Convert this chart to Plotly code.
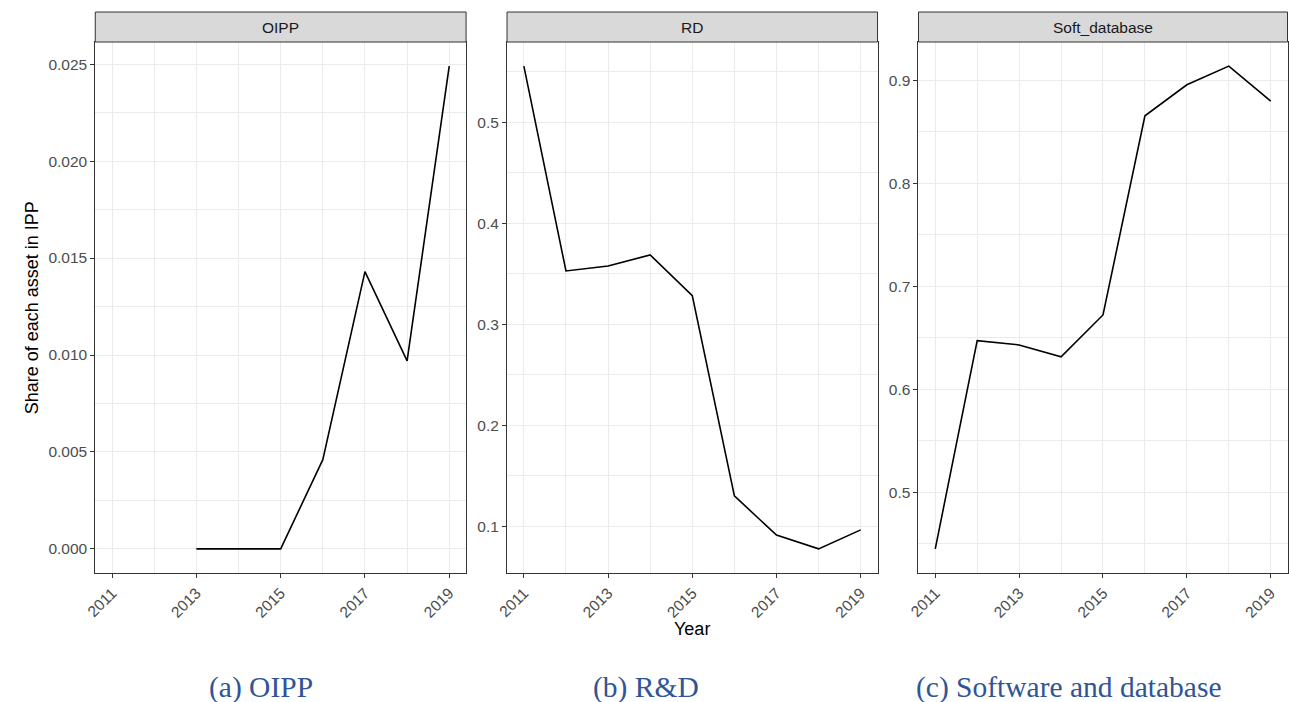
import plotly.graph_objects as go

years = [2011, 2012, 2013, 2014, 2015, 2016, 2017, 2018, 2019]
oipp = [None, None, 0.0, 0.0, 0.0, 0.0046, 0.0143, 0.0097, 0.0249]
rd = [0.5557, 0.3528, 0.3577, 0.3686, 0.3283, 0.130, 0.0911, 0.0775, 0.0963]
soft = [0.445, 0.6473, 0.6431, 0.6315, 0.6722, 0.8657, 0.8958, 0.9139, 0.8799]

strip_labels = ["OIPP", "RD", "Soft_database"]
captions = ["(a) OIPP", "(b) R&D", "(c) Software and database"]
x_ticks = [2011, 2013, 2015, 2017, 2019]
y_title = "Share of each asset in IPP"
x_title = "Year"

W, H = 1289, 702
panels_px = [(85, 459), (500.3, 874), (915.3, 1287.5)]
top_px, bot_px, strip_top_px = 42, 573, 12

def py(p):
    return (H - p) / H

def px(p):
    return p / W

series = [oipp, rd, soft]
ydticks = [0.005, 0.1, 0.1]
yfmts = [".3f", ".1f", ".1f"]

fig = go.Figure()
grid = "#EBEBEB"
axcol = "#333333"
tickfont = dict(family="Liberation Sans, Arial", size=15.5, color="#4D4D4D")

layout = dict(
    width=W, height=H, margin=dict(l=0, r=0, t=0, b=0),
    paper_bgcolor="white", plot_bgcolor="white", showlegend=False,
    shapes=[], annotations=[],
)

xr = [years[0] - 0.05 * (years[-1] - years[0]), years[-1] + 0.05 * (years[-1] - years[0])]

for i, vals in enumerate(series):
    n = "" if i == 0 else str(i + 1)
    fig.add_trace(go.Scatter(x=years, y=vals, mode="lines",
                             line=dict(color="black", width=1.6),
                             xaxis="x" + n, yaxis="y" + n, connectgaps=False,
                             hoverinfo="skip"))
    v = [a for a in vals if a is not None]
    lo, hi = min(v), max(v)
    pad = 0.05 * (hi - lo)
    x0, x1 = panels_px[i]
    layout["xaxis" + n] = dict(
        domain=[px(x0), px(x1)], anchor="y" + n, range=xr,
        tickvals=x_ticks, ticktext=[str(t) for t in x_ticks], tickangle=-45,
        ticks="outside", ticklen=4, tickcolor=axcol, tickwidth=1,
        showgrid=True, gridcolor=grid, gridwidth=1.2,
        minor=dict(dtick=1, tick0=2011, showgrid=True, gridcolor=grid, gridwidth=0.6, ticks=""),
        showline=True, linecolor=axcol, linewidth=1, mirror=True,
        zeroline=False, tickfont=tickfont,
    )
    layout["yaxis" + n] = dict(
        domain=[py(bot_px), py(top_px)], anchor="x" + n, range=[lo - pad, hi + pad],
        dtick=ydticks[i], tick0=0, tickformat=yfmts[i],
        ticks="outside", ticklen=4, tickcolor=axcol, tickwidth=1,
        showgrid=True, gridcolor=grid, gridwidth=1.2,
        minor=dict(dtick=ydticks[i] / 2, tick0=0, showgrid=True, gridcolor=grid, gridwidth=0.6, ticks=""),
        showline=True, linecolor=axcol, linewidth=1, mirror=True,
        zeroline=False, tickfont=tickfont,
    )
    layout["shapes"].append(dict(type="rect", xref="paper", yref="paper",
                                 x0=px(x0), x1=px(x1), y0=py(top_px), y1=py(strip_top_px),
                                 fillcolor="#D9D9D9", line=dict(color=axcol, width=1)))
    layout["annotations"].append(dict(text=strip_labels[i], xref="paper", yref="paper",
                                      x=(px(x0) + px(x1)) / 2, y=(py(top_px) + py(strip_top_px)) / 2,
                                      xanchor="center", yanchor="middle", showarrow=False,
                                      font=dict(family="Liberation Sans, Arial", size=15.5, color="#1A1A1A")))

caption_x = [252, 640, 1067.5]
for c, cx in zip(captions, caption_x):
    layout["annotations"].append(dict(text=c, xref="paper", yref="paper", x=px(cx), y=py(687),
                                      xanchor="center", yanchor="middle", showarrow=False,
                                      font=dict(family="Liberation Serif, Times New Roman", size=29.5,
                                                color="#2F5597")))

layout["annotations"].append(dict(text=y_title, xref="paper", yref="paper", x=px(21),
                                  y=(py(top_px) + py(bot_px)) / 2, textangle=-90,
                                  xanchor="center", yanchor="middle", showarrow=False,
                                  font=dict(family="Liberation Sans, Arial", size=18, color="black")))
layout["annotations"].append(dict(text=x_title, xref="paper", yref="paper",
                                  x=(px(panels_px[1][0]) + px(panels_px[1][1])) / 2, y=py(629),
                                  xanchor="center", yanchor="middle", showarrow=False,
                                  font=dict(family="Liberation Sans, Arial", size=18, color="black")))

fig.update_layout(**layout)
fig.write_html("out.html", config={"displayModeBar": False},
               post_script="document.body.style.margin='0';document.body.style.overflow='hidden';")
